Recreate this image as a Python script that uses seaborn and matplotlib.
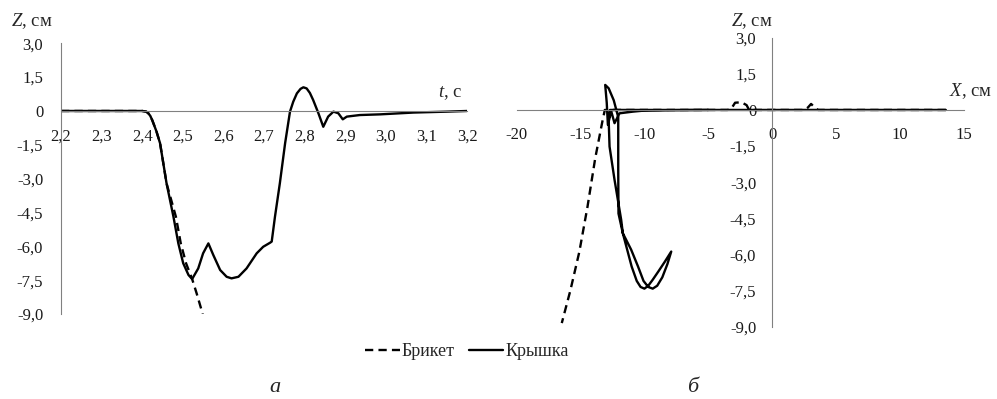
import matplotlib
matplotlib.use('Agg')
import pandas as pd
import matplotlib.pyplot as plt
import seaborn as sns
from matplotlib.ticker import FuncFormatter, MultipleLocator

# данные: Z(t)
t_lid = [2.20, 2.30, 2.40, 2.41, 2.415, 2.42, 2.425, 2.435, 2.444, 2.46, 2.477, 2.489,
         2.501, 2.514, 2.523, 2.538, 2.55, 2.563, 2.575, 2.592, 2.608, 2.62, 2.637,
         2.657, 2.682, 2.698, 2.715, 2.719, 2.727, 2.739, 2.752, 2.764, 2.772, 2.781,
         2.79, 2.797, 2.805, 2.813, 2.821, 2.834, 2.846, 2.858, 2.871, 2.883, 2.894,
         2.904, 2.936, 2.986, 3.068, 3.15, 3.20]
z_lid = [0, 0, 0, -0.03, -0.1, -0.22, -0.42, -0.9, -1.43, -3.21, -4.69, -5.87,
         -6.75, -7.27, -7.45, -6.98, -6.31, -5.87, -6.38, -7.05, -7.35, -7.42, -7.35,
         -6.98, -6.31, -6.02, -5.84, -5.79, -4.69, -3.21, -1.43, -0.03, 0.41, 0.78,
         0.98, 1.05, 1.0, 0.8, 0.49, -0.1, -0.7, -0.25, -0.03, -0.1, -0.37,
         -0.25, -0.18, -0.15, -0.07, -0.03, 0]

t_brk = [2.20, 2.30, 2.40, 2.41, 2.415, 2.42, 2.425, 2.435, 2.444, 2.46, 2.483, 2.495,
         2.508, 2.523, 2.534, 2.549]
z_brk = [0, 0, 0, -0.03, -0.1, -0.22, -0.42, -0.9, -1.43, -3.21, -4.69, -5.87,
         -6.75, -7.45, -8.08, -9.0]

# данные: траектории Z(X)
x_lid_path = [13.6, 5.0, 0.0, -5.0, -10.0, -12.0, -12.7,
              -12.8, -12.73, -12.34, -11.82, -11.69, -11.35, -11.0, -10.6, -10.3, -10.0,
              -9.7, -9.35, -8.9, -8.4, -7.9,
              -8.2, -8.6, -9.0, -9.35, -9.7, -10.07, -10.5, -11.04, -11.69, -12.03,
              -12.05, -12.05, -12.4, -12.8, -13.07, -12.95, -12.86, -12.6, -12.34,
              -11.95, -10.9, -10.1, -8.0, -5.0]
z_lid_path = [0, 0, 0, 0, 0, 0, 0,
              -0.4, -1.52, -2.9, -4.56, -5.12, -5.8, -6.5, -7.1, -7.35, -7.42,
              -7.3, -7.05, -6.7, -6.3, -5.88,
              -6.4, -6.95, -7.3, -7.42, -7.35, -7.1, -6.5, -5.8, -5.12, -4.3,
              -2.5, -0.3, 0.4, 0.9, 1.04, 0.3, -0.62, -0.05, -0.55,
              -0.14, -0.07, -0.03, -0.01, 0]

x_brk_path = [13.6, 3.6, 3.3, 3.05, 2.8, 2.5, -1.8, -2.0, -2.4, -2.9, -3.2, -3.5,
              -13.1, -13.3, -13.85, -14.46, -15.1, -15.8, -16.47]
z_brk_path = [0, 0, 0.12, 0.25, 0.1, 0, 0, 0.2, 0.32, 0.3, 0.05, 0,
              0, -0.5, -2.0, -4.03, -5.9, -7.5, -8.85]

y_ticks = [3.0, 1.5, 0, -1.5, -3.0, -4.5, -6.0, -7.5, -9.0]

sns.set_style('white')
plt.rcParams['font.family'] = ['Liberation Serif', 'DejaVu Serif']
plt.rcParams['mathtext.fontset'] = 'custom'
plt.rcParams['mathtext.it'] = 'Liberation Serif:italic'
plt.rcParams['mathtext.rm'] = 'Liberation Serif'

W, H = 997, 399
fig = plt.figure(figsize=(W / 100, H / 100), dpi=100)
ax1 = fig.add_axes([61 / W, 1 - 314 / H, 406 / W, 270.7 / H])
ax2 = fig.add_axes([516.7 / W, 1 - 326.7 / H, 447 / W, 289 / H])

df1 = pd.DataFrame({'t': t_lid, 'z': z_lid})
df2 = pd.DataFrame({'t': t_brk, 'z': z_brk})
df3 = pd.DataFrame({'x': x_lid_path, 'z': z_lid_path})
df4 = pd.DataFrame({'x': x_brk_path, 'z': z_brk_path})

lw = 1.7
dash = (0, (3.5, 2.2))
sns.lineplot(data=df2, x='t', y='z', ax=ax1, estimator=None, color='black', lw=lw,
             linestyle=dash, label='Брикет')
sns.lineplot(data=df1, x='t', y='z', ax=ax1, estimator=None, color='black', lw=lw,
             label='Крышка')
sns.lineplot(data=df4, x='x', y='z', ax=ax2, sort=False, estimator=None, color='black',
             lw=lw, linestyle=dash)
sns.lineplot(data=df3, x='x', y='z', ax=ax2, sort=False, estimator=None, color='black',
             lw=lw)


def fmt_dec(v, pos):
    if abs(v) < 1e-9:
        return '0'
    return f'{v:.1f}'.replace('.', ',')


spine_c = '#808080'
for ax in (ax1, ax2):
    ax.set_ylim(-9, 3)
    ax.set_yticks(y_ticks)
    ax.yaxis.set_major_formatter(FuncFormatter(fmt_dec))
    ax.set_xlabel('')
    ax.set_ylabel('')
    ax.spines['top'].set_visible(False)
    ax.spines['right'].set_visible(False)
    ax.spines['bottom'].set_position(('data', 0))
    for s in ('left', 'bottom'):
        ax.spines[s].set_color(spine_c)
        ax.spines[s].set_linewidth(0.8)
    ax.tick_params(direction='out', length=4.3, width=0.8, color=spine_c,
                   labelsize=12, labelcolor='#1a1a1a')
    ax.patch.set_alpha(0)
    if ax.get_legend():
        ax.get_legend().remove()

ax1.set_xlim(2.2, 3.2)
ax1.xaxis.set_major_locator(MultipleLocator(0.1))
ax1.xaxis.set_major_formatter(FuncFormatter(lambda v, p: f'{v:.1f}'.replace('.', ',')))
ax1.tick_params(axis='x', pad=8.5)
ax1.tick_params(axis='y', pad=8.5)

ax2.set_xlim(-20, 15)
ax2.set_xticks([-20, -15, -10, -5, 0, 5, 10, 15])
ax2.xaxis.set_major_formatter(FuncFormatter(lambda v, p: f'{v:.0f}'))
ax2.spines['left'].set_position(('data', 0))
ax2.tick_params(axis='x', pad=8)
ax2.tick_params(axis='y', pad=7.2)


def ftext(x, y, s, **kw):
    fig.text(x / W, 1 - y / H, s, ha='center', va='center', **kw)


ftext(32, 21, r'$Z$, см', fontsize=13.5)
ftext(450, 93, r'$t$, с', fontsize=13.5)
ftext(752, 21, r'$Z$, см', fontsize=13.5)
ftext(971, 91, r'$X$, см', fontsize=13.5)
ftext(275, 388, 'а', fontsize=16, style='italic')
ftext(693, 387, 'б', fontsize=16, style='italic')

handles, labels = ax1.get_legend_handles_labels()
fig.legend(handles, labels, loc='center', bbox_to_anchor=(467 / W, 1 - 352 / H), ncol=2,
           frameon=False, fontsize=13, handlelength=1.9, handletextpad=0.1,
           columnspacing=0.8)

fig.savefig('out.png', dpi=100)
